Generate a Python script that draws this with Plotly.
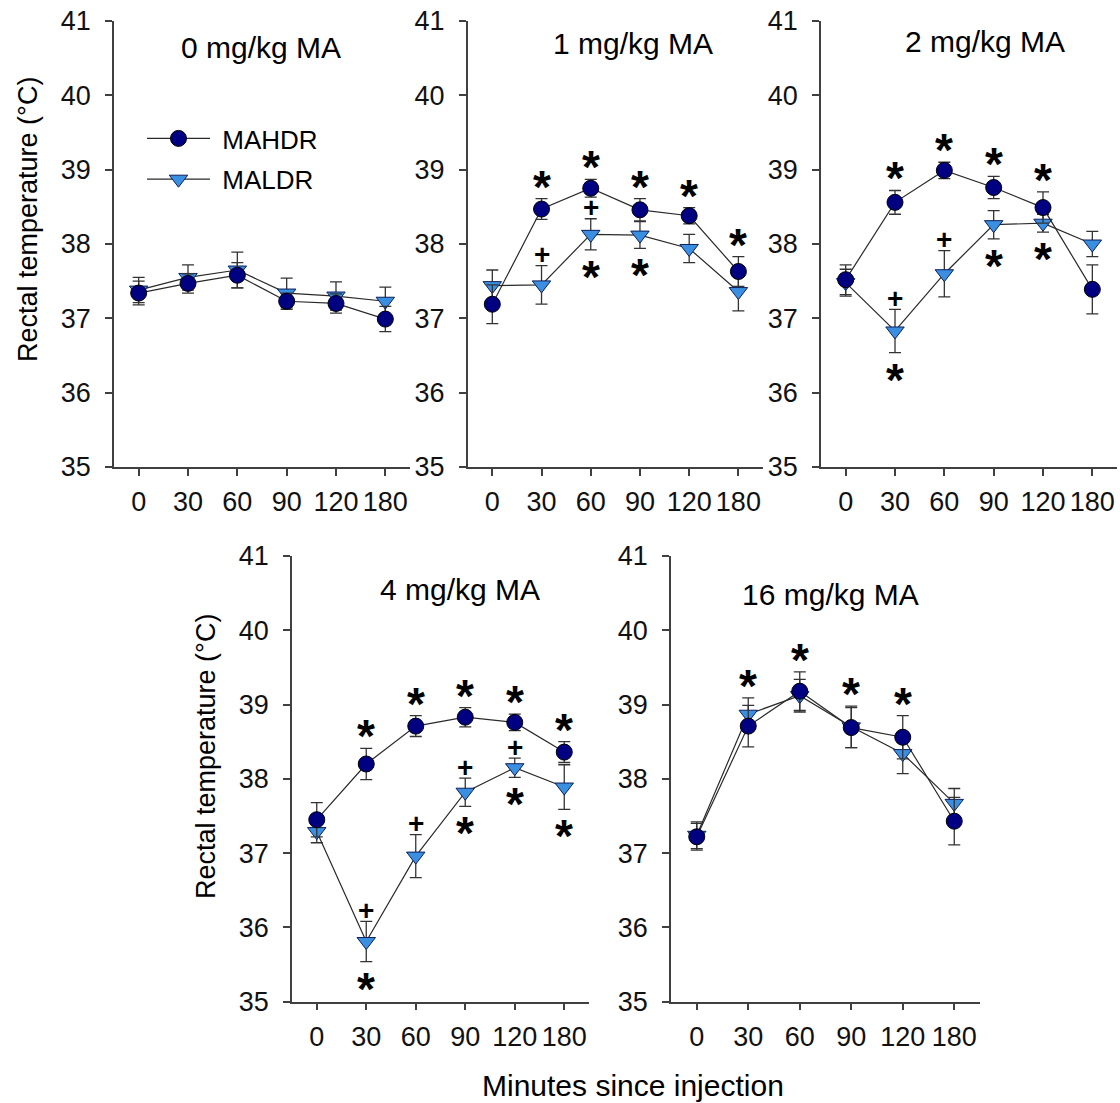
import plotly.graph_objects as go

# ---------------- data ----------------
minutes = ["0", "30", "60", "90", "120", "180"]
panel_titles = ["0 mg/kg MA", "1 mg/kg MA", "2 mg/kg MA", "4 mg/kg MA", "16 mg/kg MA"]
series_names = ["MAHDR", "MALDR"]

# MAHDR (high drinking line) mean rectal temperature and SEM
hdr_mean_0 = [37.34, 37.47, 37.58, 37.23, 37.20, 36.99]
hdr_sem_0 = [0.16, 0.13, 0.17, 0.11, 0.13, 0.17]
hdr_mean_1 = [37.19, 38.47, 38.75, 38.46, 38.38, 37.63]
hdr_sem_1 = [0.26, 0.14, 0.12, 0.15, 0.11, 0.20]
hdr_mean_2 = [37.52, 38.56, 38.99, 38.76, 38.49, 37.39]
hdr_sem_2 = [0.20, 0.16, 0.11, 0.15, 0.21, 0.33]
hdr_mean_4 = [37.45, 38.20, 38.71, 38.83, 38.76, 38.36]
hdr_sem_4 = [0.23, 0.21, 0.14, 0.13, 0.11, 0.14]
hdr_mean_16 = [37.22, 38.71, 39.18, 38.69, 38.56, 37.43]
hdr_sem_16 = [0.18, 0.28, 0.26, 0.27, 0.29, 0.32]

# MALDR (low drinking line) mean rectal temperature and SEM
ldr_mean_0 = [37.38, 37.55, 37.65, 37.34, 37.30, 37.23]
ldr_sem_0 = [0.17, 0.17, 0.24, 0.20, 0.19, 0.19]
ldr_mean_1 = [37.44, 37.45, 38.13, 38.12, 37.94, 37.36]
ldr_sem_1 = [0.21, 0.26, 0.21, 0.18, 0.19, 0.26]
ldr_mean_2 = [37.48, 36.83, 37.60, 38.26, 38.28, 38.00]
ldr_sem_2 = [0.18, 0.29, 0.31, 0.19, 0.12, 0.17]
ldr_mean_4 = [37.29, 35.81, 36.96, 37.82, 38.15, 37.89]
ldr_sem_4 = [0.15, 0.27, 0.29, 0.19, 0.13, 0.30]
ldr_mean_16 = [37.24, 38.87, 39.12, 38.70, 38.34, 37.67]
ldr_sem_16 = [0.18, 0.22, 0.22, 0.28, 0.27, 0.20]

# significance marks: "*" vs baseline above MAHDR, "+" line difference above
# MALDR, "*" vs baseline below MALDR
star_hdr_0, plus_ldr_0, star_ldr_0 = [], [], []
star_hdr_1 = ["30", "60", "90", "120", "180"]
plus_ldr_1 = ["30", "60"]
star_ldr_1 = ["60", "90"]
star_hdr_2 = ["30", "60", "90", "120"]
plus_ldr_2 = ["30", "60"]
star_ldr_2 = ["30", "90", "120"]
star_hdr_4 = ["30", "60", "90", "120", "180"]
plus_ldr_4 = ["30", "60", "90", "120"]
star_ldr_4 = ["30", "90", "120", "180"]
star_hdr_16 = ["30", "60", "90", "120"]
plus_ldr_16, star_ldr_16 = [], []

# ---------------- layout geometry (pixels) ----------------
W, H = 1120, 1103
FONT = "Liberation Sans, Arial, sans-serif"
AX_COL = "#404040"
HDR_FILL = "#000080"
LDR_FILL = "#3b8fe0"

# (left, right, top, bottom) of each plotting area
boxes = [
    (114, 410, 21, 467),
    (467.7, 763, 21, 467),
    (821, 1117, 21, 467),
    (292, 589, 556, 1001.7),
    (671, 980, 556, 1001.7),
]
title_pos = [(261, 47), (633, 43), (985, 41), (460, 589), (830, 594)]

panels = [
    (hdr_mean_0, hdr_sem_0, ldr_mean_0, ldr_sem_0, star_hdr_0, plus_ldr_0, star_ldr_0),
    (hdr_mean_1, hdr_sem_1, ldr_mean_1, ldr_sem_1, star_hdr_1, plus_ldr_1, star_ldr_1),
    (hdr_mean_2, hdr_sem_2, ldr_mean_2, ldr_sem_2, star_hdr_2, plus_ldr_2, star_ldr_2),
    (hdr_mean_4, hdr_sem_4, ldr_mean_4, ldr_sem_4, star_hdr_4, plus_ldr_4, star_ldr_4),
    (hdr_mean_16, hdr_sem_16, ldr_mean_16, ldr_sem_16, star_hdr_16, plus_ldr_16, star_ldr_16),
]

fig = go.Figure()
annotations = []
layout_axes = {}

STAR_SIZE = 46
PLUS_SIZE = 28
NBSP = "\u00a0"

for i, (hm, hs, lm, ls, s_hdr, p_ldr, s_ldr) in enumerate(panels):
    n = i + 1
    xa = "x" if n == 1 else f"x{n}"
    ya = "y" if n == 1 else f"y{n}"
    first = n == 1

    # MALDR underneath, MAHDR on top
    fig.add_trace(go.Scatter(
        x=minutes, y=lm, xaxis=xa, yaxis=ya, name=NBSP + series_names[1],
        mode="lines+markers", legendgroup="ldr", legendrank=2, showlegend=first,
        line=dict(color="#2a2a2a", width=1.2),
        marker=dict(symbol="triangle-down", size=16, color=LDR_FILL,
                    line=dict(color="#0d1f5c", width=1)),
        error_y=dict(type="data", array=ls, visible=True, color="#333333",
                     thickness=1.3, width=6),
    ))
    fig.add_trace(go.Scatter(
        x=minutes, y=hm, xaxis=xa, yaxis=ya, name=NBSP + series_names[0],
        mode="lines+markers", legendgroup="hdr", legendrank=1, showlegend=first,
        line=dict(color="#2a2a2a", width=1.2),
        marker=dict(symbol="circle", size=16, color=HDR_FILL,
                    line=dict(color="#000000", width=1)),
        error_y=dict(type="data", array=hs, visible=True, color="#333333",
                     thickness=1.3, width=6),
    ))

    l, r, t, b = boxes[i]
    layout_axes["xaxis" if n == 1 else f"xaxis{n}"] = dict(
        domain=[l / W, r / W], anchor=ya, type="category",
        categoryorder="array", categoryarray=minutes, range=[-0.5, 5.5],
        showline=True, linecolor=AX_COL, linewidth=1.5, mirror=False,
        ticks="outside", ticklen=7, tickwidth=1.5, tickcolor=AX_COL,
        showgrid=False, zeroline=False, fixedrange=True,
        tickfont=dict(family=FONT, size=27, color="#111111"),
        ticklabelstandoff=3, automargin=False,
    )
    layout_axes["yaxis" if n == 1 else f"yaxis{n}"] = dict(
        domain=[1 - b / H, 1 - t / H], anchor=xa, range=[35, 41], dtick=1,
        tick0=35, showline=True, linecolor=AX_COL, linewidth=1.5,
        ticks="outside", ticklen=7, tickwidth=1.5, tickcolor=AX_COL,
        showgrid=False, zeroline=False, fixedrange=True,
        tickfont=dict(family=FONT, size=27, color="#111111"),
        ticklabelstandoff=9, automargin=False,
    )

    # panel title
    tx, ty = title_pos[i]
    annotations.append(dict(
        text=panel_titles[i], x=tx / W, y=1 - ty / H, xref="paper", yref="paper",
        xanchor="center", yanchor="middle", showarrow=False,
        font=dict(family=FONT, size=30, color="#000000"),
    ))

    # significance symbols (x given as category position)
    for cat in s_hdr:
        k = minutes.index(cat)
        top = max(hm[k] + hs[k], lm[k] + ls[k])
        annotations.append(dict(
            text="<b>*</b>", x=k, y=top, xref=xa, yref=ya,
            xanchor="center", yanchor="middle", yshift=12, showarrow=False,
            font=dict(family=FONT, size=STAR_SIZE, color="#000000"),
        ))
    for cat in p_ldr:
        k = minutes.index(cat)
        annotations.append(dict(
            text="<b>+</b>", x=k, y=lm[k] + ls[k], xref=xa, yref=ya,
            xanchor="center", yanchor="middle", yshift=11, showarrow=False,
            font=dict(family=FONT, size=PLUS_SIZE, color="#000000"),
        ))
    for cat in s_ldr:
        k = minutes.index(cat)
        annotations.append(dict(
            text="<b>*</b>", x=k, y=lm[k] - ls[k], xref=xa, yref=ya,
            xanchor="center", yanchor="middle", yshift=-27, showarrow=False,
            font=dict(family=FONT, size=STAR_SIZE, color="#000000"),
        ))

# axis titles
y_title_pos = [(28, 220), (206, 757)]
for (yx, yy) in y_title_pos:
    annotations.append(dict(
        text="Rectal temperature (°C)", x=yx / W, y=1 - yy / H,
        xref="paper", yref="paper", xanchor="center", yanchor="middle",
        textangle=-90, showarrow=False,
        font=dict(family=FONT, size=27, color="#000000"),
    ))
annotations.append(dict(
    text="Minutes since injection", x=633 / W, y=1 - 1085 / H,
    xref="paper", yref="paper", xanchor="center", yanchor="middle",
    showarrow=False, font=dict(family=FONT, size=30, color="#000000"),
))

fig.update_layout(
    width=W, height=H, autosize=False,
    margin=dict(l=0, r=0, t=0, b=0, pad=0, autoexpand=False),
    paper_bgcolor="white", plot_bgcolor="white",
    font=dict(family=FONT, color="#000000"),
    showlegend=True,
    legend=dict(
        x=142 / W, y=1 - 115 / H, xanchor="left", yanchor="top",
        bgcolor="rgba(0,0,0,0)", borderwidth=0,
        font=dict(family=FONT, size=26, color="#000000"),
        traceorder="grouped", tracegroupgap=4, itemwidth=63,
    ),
    annotations=annotations,
    **layout_axes,
)

fig.write_html("out.html")
